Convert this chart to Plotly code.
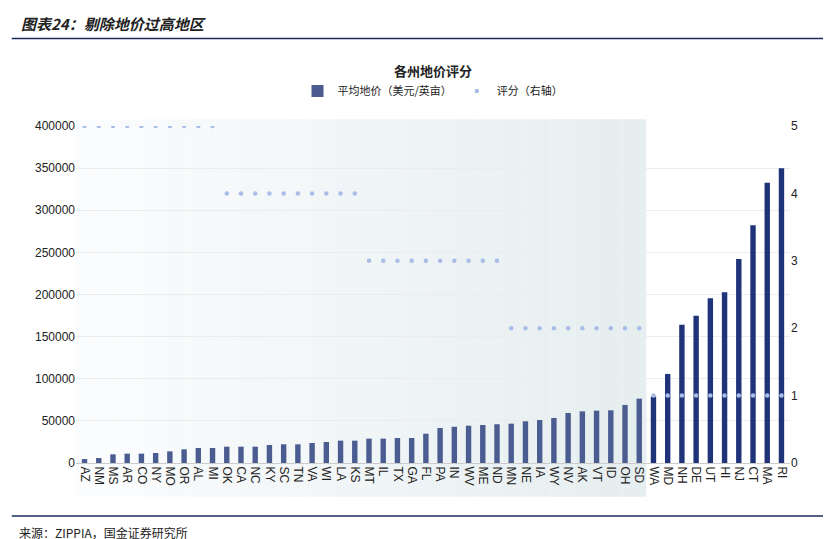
import plotly.graph_objects as go

states = ["AZ","NM","MS","AR","CO","NY","MO","OR","AL","MI",
          "OK","CA","NC","KY","SC","TN","VA","WI","LA","KS",
          "MT","IL","TX","GA","FL","PA","IN","WV","ME","ND",
          "MN","NE","IA","WY","NV","AK","VT","ID","OH","SD",
          "WA","MD","NH","DE","UT","HI","NJ","CT","MA","RI"]
price = [4700,5900,10300,11100,11100,11900,13800,16200,17800,17800,
         19400,19400,19400,21400,22200,22200,23700,24900,26500,26500,
         28900,28900,29700,29700,34800,41500,43000,44300,45100,46000,
         46700,49500,51000,53400,59400,61300,62100,62500,68900,76400,
         78800,105700,164200,174900,195500,202600,242200,282200,332500,349800]
score = [5]*10 + [4]*10 + [3]*10 + [2]*10 + [1]*10

bar_colors = ["#4a5c90"]*40 + ["#1f3378"]*10

fig = go.Figure()
fig.add_trace(go.Bar(x=states, y=price, name="平均地价（美元/英亩）",
                     marker=dict(color=bar_colors, line_width=0), width=0.38))
fig.add_trace(go.Scatter(x=states, y=score, name="评分（右轴）", mode="markers",
                         marker=dict(color="#a9bde8", size=4.5), yaxis="y2"))

n = 24
x0, x1 = -0.9, 39.5
for i in range(n):
    a = x0 + (x1 - x0) * i / n
    b = x0 + (x1 - x0) * (i + 1) / n
    t = (i + 0.5) / n
    r = int(252 + (230 - 252) * t); g = int(253 + (238 - 253) * t); bl = int(254 + (240 - 254) * t)
    fig.add_shape(type="rect", xref="x", yref="paper", x0=a, x1=b, y0=-0.1, y1=1.02,
                  fillcolor=f"rgb({r},{g},{bl})", line_width=0, layer="below")

fig.add_annotation(text="<b><i>图表24：剔除地价过高地区</i></b>", xref="paper", yref="paper",
                   x=-0.08, y=1.305, xanchor="left", yanchor="middle", showarrow=False,
                   font=dict(size=15, color="#222"))
fig.add_shape(type="line", xref="paper", yref="paper", x0=-0.09, x1=1.06, y0=1.26, y1=1.26,
              line=dict(color="#1a2a5a", width=1.5))
fig.add_shape(type="line", xref="paper", yref="paper", x0=-0.09, x1=1.06, y0=-0.157, y1=-0.157,
              line=dict(color="#1a2a5a", width=1.5))
fig.add_annotation(text="来源：ZIPPIA，国金证券研究所", xref="paper", yref="paper",
                   x=-0.083, y=-0.205, xanchor="left", yanchor="middle", showarrow=False,
                   font=dict(size=12, color="#222"))
fig.add_annotation(text="<b>各州地价评分</b>", xref="paper", yref="paper",
                   x=0.5, y=1.165, xanchor="center", yanchor="middle", showarrow=False,
                   font=dict(size=13, color="#222"))

fig.update_layout(
    width=831, height=539,
    margin=dict(l=68, r=49, t=118, b=84, autoexpand=False),
    paper_bgcolor="white", plot_bgcolor="rgba(0,0,0,0)",
    font=dict(family="Noto Sans CJK SC, Liberation Sans, sans-serif", size=12, color="#222"),
    legend=dict(orientation="h", x=0.5, xanchor="center", y=1.104, yanchor="middle",
                font=dict(size=11), bgcolor="rgba(0,0,0,0)", itemwidth=30),
    xaxis=dict(tickangle=90, tickfont=dict(size=12, family="Liberation Sans, Arial"),
               showgrid=False, showline=True, linecolor="#ccc", ticks="", range=[-0.6, 49.6],
               automargin=False),
    yaxis=dict(range=[0, 400000], dtick=50000, tickformat="d", gridcolor="#ececec", zeroline=False,
               tickfont=dict(size=12, family="Liberation Sans, Arial"), showline=False,
               automargin=False),
    yaxis2=dict(range=[0, 5], dtick=1, overlaying="y", side="right", showgrid=False,
                zeroline=False, tickfont=dict(size=12, family="Liberation Sans, Arial"),
                automargin=False),
)
fig.write_html("out.html")
